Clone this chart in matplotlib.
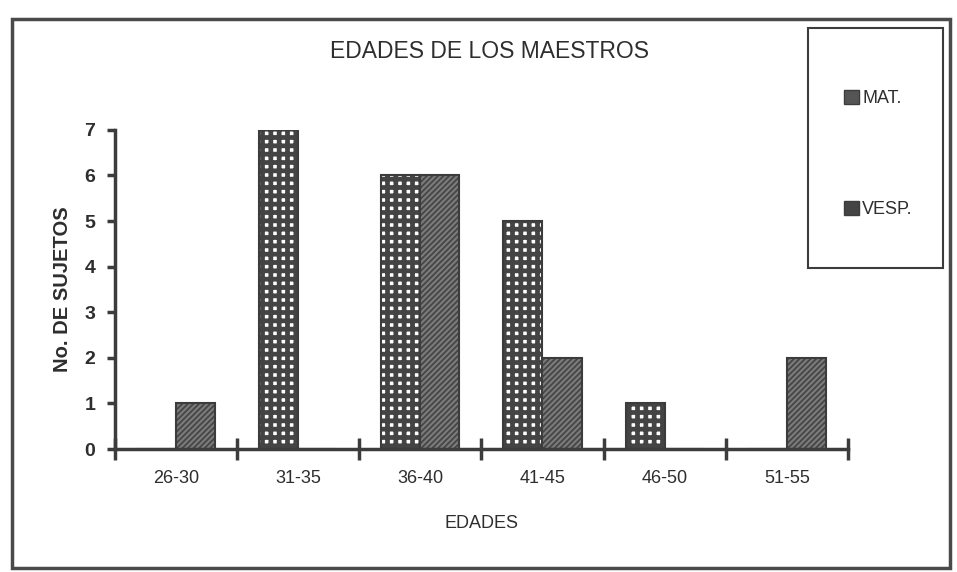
import matplotlib.pyplot as plt
import numpy as np
from matplotlib.patches import Rectangle, Patch

plt.rcParams['font.family'] = ['Liberation Sans', 'DejaVu Sans']

# datos
edades = ["26-30", "31-35", "36-40", "41-45", "46-50", "51-55"]
mat = [0, 7, 6, 5, 1, 0]
vesp = [1, 0, 6, 2, 0, 2]

gris = '#3c3c3c'
txt = '#2e2e2e'

fig = plt.figure(figsize=(9.57, 5.72), dpi=100)
ax = fig.add_axes([0.120, 0.215, 0.766, 0.558])

x = np.arange(len(edades))
w = 0.32
plt.rcParams['hatch.linewidth'] = 3.4

# MAT: fondo blanco con rejilla oscura gruesa (quedan puntos blancos)
ax.bar(x - w/2, mat, w, color='white', edgecolor='#444444', hatch='++', linewidth=0)
ax.bar(x - w/2, mat, w, fill=False, edgecolor=gris, linewidth=1.5)
# VESP: fondo oscuro con rayado diagonal gris
plt.rcParams['hatch.linewidth'] = 1.6
ax.bar(x + w/2, vesp, w, color='#444444', edgecolor='#7a7a7a', hatch='//////', linewidth=0)
ax.bar(x + w/2, vesp, w, fill=False, edgecolor=gris, linewidth=1.5)

ax.set_xlim(-0.5, len(edades) - 0.5)
ax.set_ylim(0, 7)

for s in ['top', 'right']:
    ax.spines[s].set_visible(False)
for s in ['left', 'bottom']:
    ax.spines[s].set_color(gris)
    ax.spines[s].set_linewidth(2.5)

# marcas mayores en los limites de cada grupo, etiquetas en el centro
ax.set_xticks(np.arange(len(edades) + 1) - 0.5)
ax.set_xticklabels([])
ax.tick_params(axis='x', which='major', direction='inout', length=16, width=2.5, color=gris)
ax.set_xticks(x, minor=True)
ax.set_xticklabels(edades, minor=True, fontsize=13, color=txt)
ax.tick_params(axis='x', which='minor', length=0, pad=15)

ax.set_yticks(range(0, 8))
ax.tick_params(axis='y', direction='out', length=6, width=2.5, color=gris,
               labelsize=14, labelcolor=txt, pad=8)
for t in ax.get_yticklabels():
    t.set_fontweight('bold')

ax.set_xlabel('EDADES', fontsize=13, color=txt, labelpad=20)
ax.set_ylabel('No. DE SUJETOS', fontsize=14.5, fontweight='bold', color=txt, labelpad=9)
fig.text(0.511, 0.91, 'EDADES DE LOS MAESTROS', ha='center', va='center',
         fontsize=16.5, color=txt)

# caja de la leyenda
fig.patches.append(Rectangle((808/957, 1 - 268/572), 135/957, 240/572,
                             transform=fig.transFigure, fill=False,
                             edgecolor=gris, linewidth=1.5))
handles = [Patch(facecolor='#555555', edgecolor=gris, label='MAT.'),
           Patch(facecolor='#444444', edgecolor=gris, label='VESP.')]
fig.legend(handles=handles, loc='upper left', bbox_to_anchor=(828/957, 1 - 74/572),
           frameon=False, fontsize=13, labelspacing=5.2, handlelength=0.8,
           handleheight=0.8, handletextpad=0.2, labelcolor=txt)

# marco exterior de la imagen
fig.patches.append(Rectangle((12/957, 4/572), 938/957, 549/572,
                             transform=fig.transFigure, fill=False,
                             edgecolor='#4a4a4a', linewidth=2.5))

fig.savefig('out.png', dpi=100)
